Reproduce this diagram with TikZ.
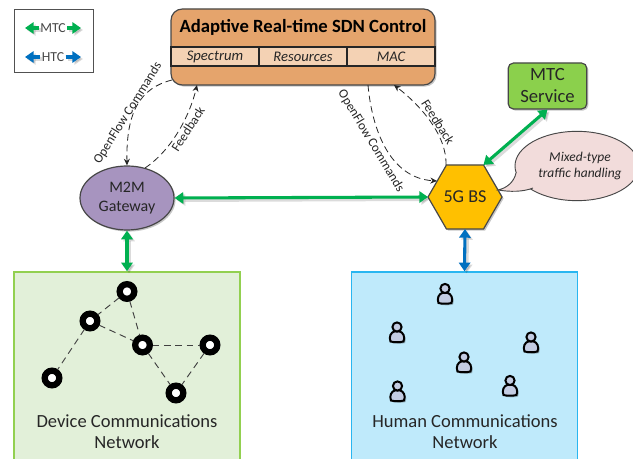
\documentclass[tikz,border=0pt]{standalone}
\usepackage{fontspec}
\setmainfont{Carlito}
\usetikzlibrary{arrows.meta,shapes.geometric,shadows}
\definecolor{ink}{HTML}{262626}
\definecolor{mtcgreen}{HTML}{00B050}
\definecolor{htcblue}{HTML}{0070C0}
\definecolor{dashc}{HTML}{404040}
\definecolor{sdnlight}{HTML}{F4D2B4}
\definecolor{sdnorange}{HTML}{E5A46C}
\definecolor{personfill}{HTML}{C3CCE2}
\definecolor{gwpurple}{HTML}{A794BF}
\definecolor{bsyellow}{HTML}{FFC000}
\definecolor{svcgreen}{HTML}{8BD04C}
\definecolor{callpink}{HTML}{F2DCDB}
\definecolor{devborder}{HTML}{92D050}
\definecolor{devfill}{HTML}{E2F0D9}
\definecolor{humborder}{HTML}{29B6F0}
\definecolor{humfill}{HTML}{BFEAFB}
\tikzset{
  x=0.75pt,y=-0.75pt,
  softshadow/.style={drop shadow={shadow xshift=1.2pt,shadow yshift=-1.2pt,fill=black,opacity=.22}},
  linkshadow/.style={preaction={draw=black,opacity=.14,line width=3pt,transform canvas={shift={(1.5pt,-1.5pt)}}}},
  mtclink/.style={draw=mtcgreen,line width=2.3pt,{Triangle[length=6.5pt,width=8.5pt]}-{Triangle[length=6.5pt,width=8.5pt]}},
  htclink/.style={draw=htcblue,line width=2.3pt,{Triangle[length=6.5pt,width=8.5pt]}-{Triangle[length=6.5pt,width=8.5pt]}},
  leftend/.style={line width=2.3pt,{Triangle[length=6.5pt,width=8.5pt]}-},
  rightend/.style={line width=2.3pt,-{Triangle[length=6.5pt,width=8.5pt]}},
  signal/.style={draw=ink,dash pattern=on 5pt off 3pt,line width=.6pt,-{Stealth[length=5pt,width=4.5pt]}},
  rotlabel/.style={font=\fontsize{9.8}{12}\selectfont,text=ink,inner sep=0pt},
  sdncell/.style={draw=ink,line width=.8pt,fill=sdnlight,minimum width=66pt,minimum height=14.25pt,inner sep=0pt,font=\itshape\fontsize{11}{13}\selectfont,text=ink},
  netbox/.style={line width=1.1pt,minimum width=169.5pt,minimum height=148.5pt,inner sep=0pt},
  netlabel/.style={align=center,font=\fontsize{13.9}{15.75}\selectfont,text=ink,inner sep=0pt},
  devnode/.style={circle,draw=black,fill=white,line width=4.7pt,minimum size=11pt,inner sep=0pt,outer sep=2pt,softshadow},
  devlink/.style={draw=dashc,dash pattern=on 5pt off 3.5pt,line width=.7pt},
  person/.pic={
    \draw[draw=black,line width=1.5pt,fill=personfill,softshadow]
      (-6.5,9.5) .. controls (-8.5,5) and (-6,0) .. (-2.5,-0.5) -- (2.5,-0.5)
      .. controls (6,0) and (8.5,5) .. (6.5,9.5) .. controls (3,10.5) and (-3,10.5) .. (-6.5,9.5) -- cycle;
    \draw[draw=black,line width=1.5pt,fill=personfill] (0,-5) circle[radius=4.6];
  }
}
\begin{document}
\begin{tikzpicture}
\clip (0,0) rectangle (633,459);
\fill[white] (0,0) rectangle (633,459);

% legend
\node[draw=ink!80,line width=.7pt,minimum width=59.25pt,minimum height=47.25pt,inner sep=0pt] (legend) at (53.5,40.5) {};
\node[inner sep=1pt,text=ink!85,font=\fontsize{10.3}{12}\selectfont] (mtc) at (53,28) {MTC};
\node[inner sep=1pt,text=ink!85,font=\fontsize{10.3}{12}\selectfont] (htc) at (53,57) {HTC};
\coordinate (mtcl) at (25,28); \coordinate (mtcr) at (81,28);
\coordinate (htcl) at (25,57); \coordinate (htcr) at (81,57);
\draw[leftend,draw=mtcgreen,fill=mtcgreen,linkshadow] (mtcl) -- (mtc);
\draw[rightend,draw=mtcgreen,fill=mtcgreen,linkshadow] (mtc) -- (mtcr);
\draw[leftend,draw=htcblue,fill=htcblue,linkshadow] (htcl) -- (htc);
\draw[rightend,draw=htcblue,fill=htcblue,linkshadow] (htc) -- (htcr);

% SDN controller
\node[draw=ink!85,line width=.9pt,fill=sdnorange,rounded corners=8.5pt,minimum width=198pt,minimum height=57pt,inner sep=0pt,softshadow] (sdn) at (303,47) {};
\node[font=\bfseries\fontsize{14}{16}\selectfont,text=black,inner sep=0pt] (title) at (303,27) {Adaptive Real-time SDN Control};
\node[sdncell] (spec) at (215,56.5) {Spectrum};
\node[sdncell] (res) at (303,56.5) {Resources};
\node[sdncell] (mac) at (391,56.5) {MAC};

% gateway, base station, service
\node[ellipse,draw=ink!85,line width=.9pt,fill=gwpurple,minimum width=70.5pt,minimum height=48pt,inner sep=0pt,align=center,font=\fontsize{12}{14.2}\selectfont,text=ink,softshadow] (gw) at (127,198) {M2M\\Gateway};
\node[regular polygon,regular polygon sides=6,draw=ink!85,line width=.9pt,fill=bsyellow,minimum size=55.5pt,inner sep=0pt,outer sep=0pt,font=\fontsize{13.6}{15}\selectfont,text=ink,softshadow] (bs) at (465,197) {5G BS};
\node[draw=ink!85,line width=.9pt,fill=svcgreen,rounded corners=4pt,minimum width=59pt,minimum height=34.5pt,inner sep=0pt,align=center,font=\fontsize{14}{16.5}\selectfont,text=ink,softshadow] (svc) at (547.5,86) {MTC\\Service};

% callout
\node[ellipse,draw=ink!85,line width=.7pt,fill=callpink,minimum width=93pt,minimum height=52pt,inner sep=0pt] (call) at (577,166) {};
\coordinate (tip) at (498,190);
\coordinate (tailup) at (516,173);
\coordinate (taillow) at (533,188);
\fill[callpink] (tailup) .. controls (514,182) and (507,188) .. (tip) .. controls (510,192) and (523,192) .. (taillow) -- (540,175) -- cycle;
\draw[draw=ink!85,line width=.7pt] (tailup) .. controls (514,182) and (507,188) .. (tip) .. controls (510,192) and (523,192) .. (taillow);
\node[align=center,font=\itshape\fontsize{10.1}{12.2}\selectfont,text=ink,inner sep=0pt] (calltext) at (580,166) {Mixed-type\\traffic handling};

% network boxes
\node[netbox,draw=devborder,fill=devfill] (devnet) at (127,371) {};
\node[netbox,draw=humborder,fill=humfill] (humnet) at (464.5,371) {};
\node[netlabel] (devlabel) at (127,432) {Device Communications\\Network};
\node[netlabel] (humlabel) at (465,432) {Human Communications\\Network};

% device graph
\node[devnode] (d1) at (127,291.5) {};
\node[devnode] (d2) at (90,321) {};
\node[devnode] (d3) at (142.5,345) {};
\node[devnode] (d4) at (210,345) {};
\node[devnode] (d5) at (52,378) {};
\node[devnode] (d6) at (176,393) {};
\draw[devlink] (d1) -- (d2);
\draw[devlink] (d1) -- (d3);
\draw[devlink] (d2) -- (d3);
\draw[devlink] (d2) -- (d5);
\draw[devlink] (d3) -- (d4);
\draw[devlink] (d3) -- (d6);
\draw[devlink] (d4) -- (d6);

% people
\pic at (445,293.5) {person};
\pic at (397,332) {person};
\pic at (531,342) {person};
\pic at (464,362) {person};
\pic at (397.5,391) {person};
\pic at (510,385.5) {person};

% main links
\draw[mtclink,linkshadow] (gw.east) -- (bs.west);
\draw[mtclink,linkshadow] (gw.south) -- (devnet.north);
\draw[htclink,linkshadow] (bs.south) -- (humnet.north);
\draw[mtclink,linkshadow] (svc.south) -- (bs.60);

% signalling
\coordinate (ofla) at (172,80);
\coordinate (fbla) at (145,168);
\coordinate (fblb) at (197,85);
\coordinate (ofra) at (368,85);
\coordinate (ofrb) at (437,181);
\coordinate (fbra) at (446,165);
\coordinate (fbrb) at (394,85);
\draw[signal] (ofla) .. controls (140,88) and (126,112) .. (gw.north);
\draw[signal] (fbla) .. controls (172,150) and (190,115) .. (fblb);
\draw[signal] (ofra) .. controls (372,130) and (390,178) .. (ofrb);
\draw[signal] (fbra) .. controls (447,135) and (420,105) .. (fbrb);
\node[rotlabel,rotate=58] (ofll) at (128,113) {OpenFlow Commands};
\node[rotlabel,rotate=57] (fbll) at (188,129) {Feedback};
\node[rotlabel,rotate=-59] (ofrl) at (371,141) {OpenFlow Commands};
\node[rotlabel,rotate=-58] (fbrl) at (438,122) {Feedback};
\end{tikzpicture}
\end{document}
